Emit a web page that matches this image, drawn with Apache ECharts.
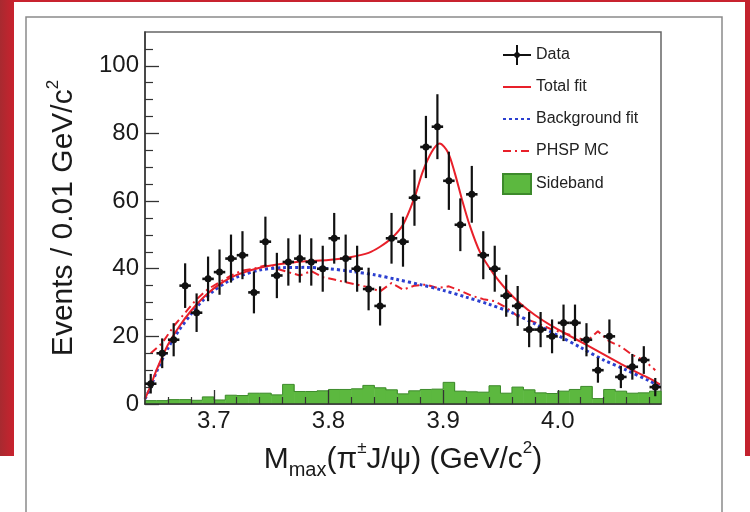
<!DOCTYPE html>
<html>
<head>
<meta charset="utf-8">
<script src="https://cdn.jsdelivr.net/npm/echarts@6/dist/echarts.min.js"></script>
<style>
html,body{margin:0;padding:0;background:#fff;}
#chart{width:750px;height:512px;}
</style>
</head>
<body>
<div id="chart"></div>
<script>
// ---- data ----
const binCenters = [3.645,3.655,3.665,3.675,3.685,3.695,3.705,3.715,3.725,3.735,
  3.745,3.755,3.765,3.775,3.785,3.795,3.805,3.815,3.825,3.835,
  3.845,3.855,3.865,3.875,3.885,3.895,3.905,3.915,3.925,3.935,
  3.945,3.955,3.965,3.975,3.985,3.995,4.005,4.015,4.025,4.035,
  4.045,4.055,4.065,4.075,4.085];
const binHalfWidth = 0.005;
const dataValues = [6,15,19,35,27,37,39,43,44,33,
  48,38,42,43,42,40,49,43,40,34,
  29,49,48,61,76,82,66,53,62,44,
  40,32,29,22,22,20,24,24,19,10,
  20,8,11,13,5];
const dataErrors = [2.9,4.4,4.9,6.6,5.7,6.6,6.7,7.1,7.1,6.2,
  7.4,6.7,7.0,7.1,7.0,6.8,7.5,7.1,6.8,6.3,
  5.8,7.5,7.4,8.3,9.2,9.6,8.6,7.8,8.4,7.1,
  6.8,6.2,5.9,5.2,5.2,5.0,5.4,5.4,4.9,3.7,
  5.0,3.3,3.8,4.1,2.7];
const sideband = [1.0,1.0,1.3,1.3,1.1,2.1,1.2,2.6,2.5,3.2,
  3.2,2.7,5.8,3.7,3.7,3.9,4.3,4.3,4.5,5.5,
  4.8,4.2,3.0,3.9,4.3,4.4,6.4,3.8,3.6,3.5,
  5.4,3.2,5.0,4.2,3.3,3.1,3.8,4.3,5.2,1.6,
  4.3,3.8,3.2,3.3,3.8];
const phspMC = [15,18,23,27,31,34,36,38,39.5,40,
  41,40,39,38,39.3,37.5,36.8,36,35.3,34.5,
  33.3,35.8,33.8,35,35.3,34.3,34.8,33.5,32,31,
  30.4,28.5,26,24.8,23.5,22,21,20,18.5,21.5,
  18.5,17,14.5,13,10];
const totalFitX = [3.640,3.645,3.650,3.660,3.670,3.680,3.690,3.700,3.710,3.720,
  3.740,3.760,3.780,3.800,3.820,3.835,3.845,3.855,3.865,3.875,
  3.882,3.890,3.897,3.904,3.910,3.916,3.923,3.932,3.944,3.956,
  3.967,3.980,3.995,4.010,4.025,4.040,4.055,4.070,4.082,4.089];
const totalFitY = [1.5,5.5,10,17.5,23,27.5,31.2,34.2,36.5,38.2,
  40.3,41.5,42.2,42.6,43.5,44.7,46.5,49,53,61,
  68.5,74.5,77,74.5,68.5,61,53,45,38.5,33.5,
  29.8,26.3,23,20.2,17.5,14.7,11.9,9.2,7.2,5.8];
const bkgFitX = [3.640,3.645,3.650,3.660,3.670,3.680,3.690,3.700,3.710,3.720,
  3.740,3.760,3.780,3.800,3.820,3.840,3.860,3.880,3.900,3.920,
  3.940,3.960,3.980,4.000,4.020,4.040,4.060,4.080,4.089];
const bkgFitY = [1.5,5,9.5,16.5,22,26.5,30.5,33.5,35.8,37.5,
  39.6,40.3,40.4,40,39.2,38.2,36.8,35.3,33.6,31.6,
  29.5,27,23.7,20.3,16.7,13,10,6.8,5.3];
const xMajorTicks = [3.7,3.8,3.9,4.0];
const xMinorTicks = [3.66,3.68,3.72,3.74,3.76,3.78,3.82,3.84,3.86,3.88,3.92,3.94,3.96,3.98,4.02,4.04,4.06,4.08];
const yMajorTicks = [0,20,40,60,80,100];
const yMinorTicks = [5,10,15,25,30,35,45,50,55,65,70,75,85,90,95,105];
const xMin = 3.64, xMax = 4.09, yMin = 0, yMax = 110;

const FONT = 'Liberation Sans, Arial, Helvetica, sans-serif';
const chart = echarts.init(document.getElementById('chart'), null, {renderer: 'canvas'});

const dataSeriesData = binCenters.map((c, i) => [c, dataValues[i], dataErrors[i]]);
const sideSeriesData = binCenters.map((c, i) => [c, sideband[i]]);
const hideSymbol = {opacity: 0};

const option = {
  animation: false,
  backgroundColor: '#ffffff',
  graphic: [
    {type: 'rect', shape: {x: 0, y: 0, width: 750, height: 2}, style: {fill: '#c8232f'}, silent: true},
    {type: 'rect', shape: {x: 0, y: 0, width: 14, height: 456},
     style: {fill: new echarts.graphic.LinearGradient(0, 0, 1, 0, [{offset: 0, color: '#a82a30'}, {offset: 1, color: '#c9222e'}])}, silent: true},
    {type: 'rect', shape: {x: 745, y: 0, width: 5, height: 456}, style: {fill: '#c3222e'}, silent: true},
    {type: 'polyline', shape: {points: [[26, 512], [26, 17], [722, 17], [722, 512]]},
     style: {stroke: '#8a8a8a', lineWidth: 1.5, fill: null}, silent: true}
  ],
  grid: {left: 145, top: 32, right: 89, bottom: 108, show: true, borderColor: '#666', borderWidth: 1.5, outerBoundsMode: 'none'},
  legend: {
    orient: 'vertical', left: 502, top: 45, padding: 0, itemWidth: 28, itemHeight: 20, itemGap: 12,
    textStyle: {fontSize: 16, color: '#222', fontFamily: FONT, lineHeight: 20},
    data: [
      {name: 'Data', icon: 'path://M0,9H28V11H0Z M13,0H15V20H13Z M14,6L18,10L14,14L10,10Z'},
      {name: 'Total fit', itemStyle: hideSymbol},
      {name: 'Background fit', itemStyle: hideSymbol},
      {name: 'PHSP MC', itemStyle: hideSymbol},
      {name: 'Sideband', icon: 'rect'}
    ]
  },
  xAxis: [
    {
      type: 'value', min: xMin, max: xMax, position: 'bottom', z: 6,
      axisLine: {show: true, onZero: false, lineStyle: {color: '#333', width: 1.5}},
      axisTick: {show: true, inside: true, length: 14, customValues: xMajorTicks, lineStyle: {color: '#333', width: 1.3}},
      axisLabel: {customValues: xMajorTicks, margin: 5, fontSize: 24, color: '#1a1a1a', fontFamily: FONT,
        formatter: v => v.toFixed(1)},
      splitLine: {show: false},
      name: '{t|M}{sub|max}{t|(π}{sup|±}{t|J/ψ) (GeV/c}{sup|2}{t|)}',
      nameLocation: 'middle', nameGap: 36,
      nameTextStyle: {
        fontFamily: FONT, color: '#1a1a1a',
        rich: {
          t: {fontSize: 30, fontFamily: FONT, color: '#1a1a1a', lineHeight: 40, verticalAlign: 'middle'},
          sub: {fontSize: 20, fontFamily: FONT, color: '#1a1a1a', verticalAlign: 'bottom'},
          sup: {fontSize: 17, fontFamily: FONT, color: '#1a1a1a', verticalAlign: 'top'}
        }
      }
    },
    {
      type: 'value', min: xMin, max: xMax, position: 'bottom', z: 6,
      axisLine: {show: false},
      axisTick: {show: true, inside: true, length: 7, customValues: xMinorTicks, lineStyle: {color: '#333', width: 1.2}},
      axisLabel: {show: false},
      splitLine: {show: false}
    }
  ],
  yAxis: [
    {
      type: 'value', min: yMin, max: yMax, position: 'left', z: 6,
      axisLine: {show: true, onZero: false, lineStyle: {color: '#333', width: 1.5}},
      axisTick: {show: true, inside: true, length: 14, customValues: yMajorTicks, lineStyle: {color: '#333', width: 1.3}},
      axisLabel: {customValues: yMajorTicks, margin: 6, fontSize: 24, color: '#1a1a1a', fontFamily: FONT},
      splitLine: {show: false},
      name: '{t|Events / 0.01 GeV/c}{sup|2}',
      nameLocation: 'middle', nameRotate: 90, nameGap: 62,
      nameTextStyle: {
        fontFamily: FONT, color: '#1a1a1a',
        rich: {
          t: {fontSize: 30, fontFamily: FONT, color: '#1a1a1a', lineHeight: 38, verticalAlign: 'middle'},
          sup: {fontSize: 17, fontFamily: FONT, color: '#1a1a1a', verticalAlign: 'top'}
        }
      }
    },
    {
      type: 'value', min: yMin, max: yMax, position: 'left', z: 6,
      axisLine: {show: false},
      axisTick: {show: true, inside: true, length: 8, customValues: yMinorTicks, lineStyle: {color: '#333', width: 1.2}},
      axisLabel: {show: false},
      splitLine: {show: false}
    }
  ],
  series: [
    {
      name: 'Sideband', type: 'custom', xAxisIndex: 0, yAxisIndex: 0, z: 1,
      itemStyle: {color: '#5cb83f', borderColor: '#3d8a2b', borderWidth: 1},
      encode: {x: 0, y: 1},
      data: sideSeriesData,
      renderItem: (params, api) => {
        const c = api.value(0), v = api.value(1);
        const i = params.dataIndex;
        const prev = i > 0 ? sideband[i - 1] : 0;
        const tl = api.coord([c - binHalfWidth, v]);
        const br = api.coord([c + binHalfWidth, 0]);
        const pl = api.coord([c - binHalfWidth, prev]);
        const pts = [[tl[0], pl[1]], [tl[0], tl[1]], [br[0], tl[1]]];
        if (i === sideband.length - 1) pts.push([br[0], br[1]]);
        return {
          type: 'group',
          children: [
            {type: 'rect', shape: {x: tl[0], y: tl[1], width: br[0] - tl[0] + 0.5, height: br[1] - tl[1]},
             style: {fill: '#5cb83f'}},
            {type: 'polyline', shape: {points: pts}, style: {stroke: '#3d8a2b', lineWidth: 1, fill: null}}
          ]
        };
      }
    },
    {
      name: 'PHSP MC', type: 'line', z: 3, symbol: 'none', smooth: false,
      data: binCenters.map((c, i) => [c, phspMC[i]]),
      itemStyle: {color: '#e8202a'},
      lineStyle: {color: '#e8202a', width: 2, type: [8, 4, 2, 4]}
    },
    {
      name: 'Background fit', type: 'line', z: 4, symbol: 'none', smooth: 0.3,
      data: bkgFitX.map((x, i) => [x, bkgFitY[i]]),
      itemStyle: {color: '#2b3fd0'},
      lineStyle: {color: '#2b3fd0', width: 3, type: [3, 3]}
    },
    {
      name: 'Total fit', type: 'line', z: 5, symbol: 'none', smooth: 0.3,
      data: totalFitX.map((x, i) => [x, totalFitY[i]]),
      itemStyle: {color: '#e8202a'},
      lineStyle: {color: '#e8202a', width: 2}
    },
    {
      name: 'Data', type: 'custom', z: 10,
      itemStyle: {color: '#111'},
      encode: {x: 0, y: 1},
      data: dataSeriesData,
      renderItem: (params, api) => {
        const x = api.value(0), y = api.value(1), e = api.value(2);
        const p = api.coord([x, y]);
        const t = api.coord([x, y + e]);
        const b = api.coord([x, Math.max(0, y - e)]);
        const l = api.coord([x - binHalfWidth, y]);
        const r = api.coord([x + binHalfWidth, y]);
        return {
          type: 'group',
          children: [
            {type: 'line', shape: {x1: p[0], y1: t[1], x2: p[0], y2: b[1]}, style: {stroke: '#111', lineWidth: 2.2}},
            {type: 'line', shape: {x1: l[0], y1: p[1], x2: r[0], y2: p[1]}, style: {stroke: '#111', lineWidth: 2.6}},
            {type: 'circle', shape: {cx: p[0], cy: p[1], r: 3.5}, style: {fill: '#111'}}
          ]
        };
      }
    }
  ]
};
chart.setOption(option);
</script>
</body>
</html>
